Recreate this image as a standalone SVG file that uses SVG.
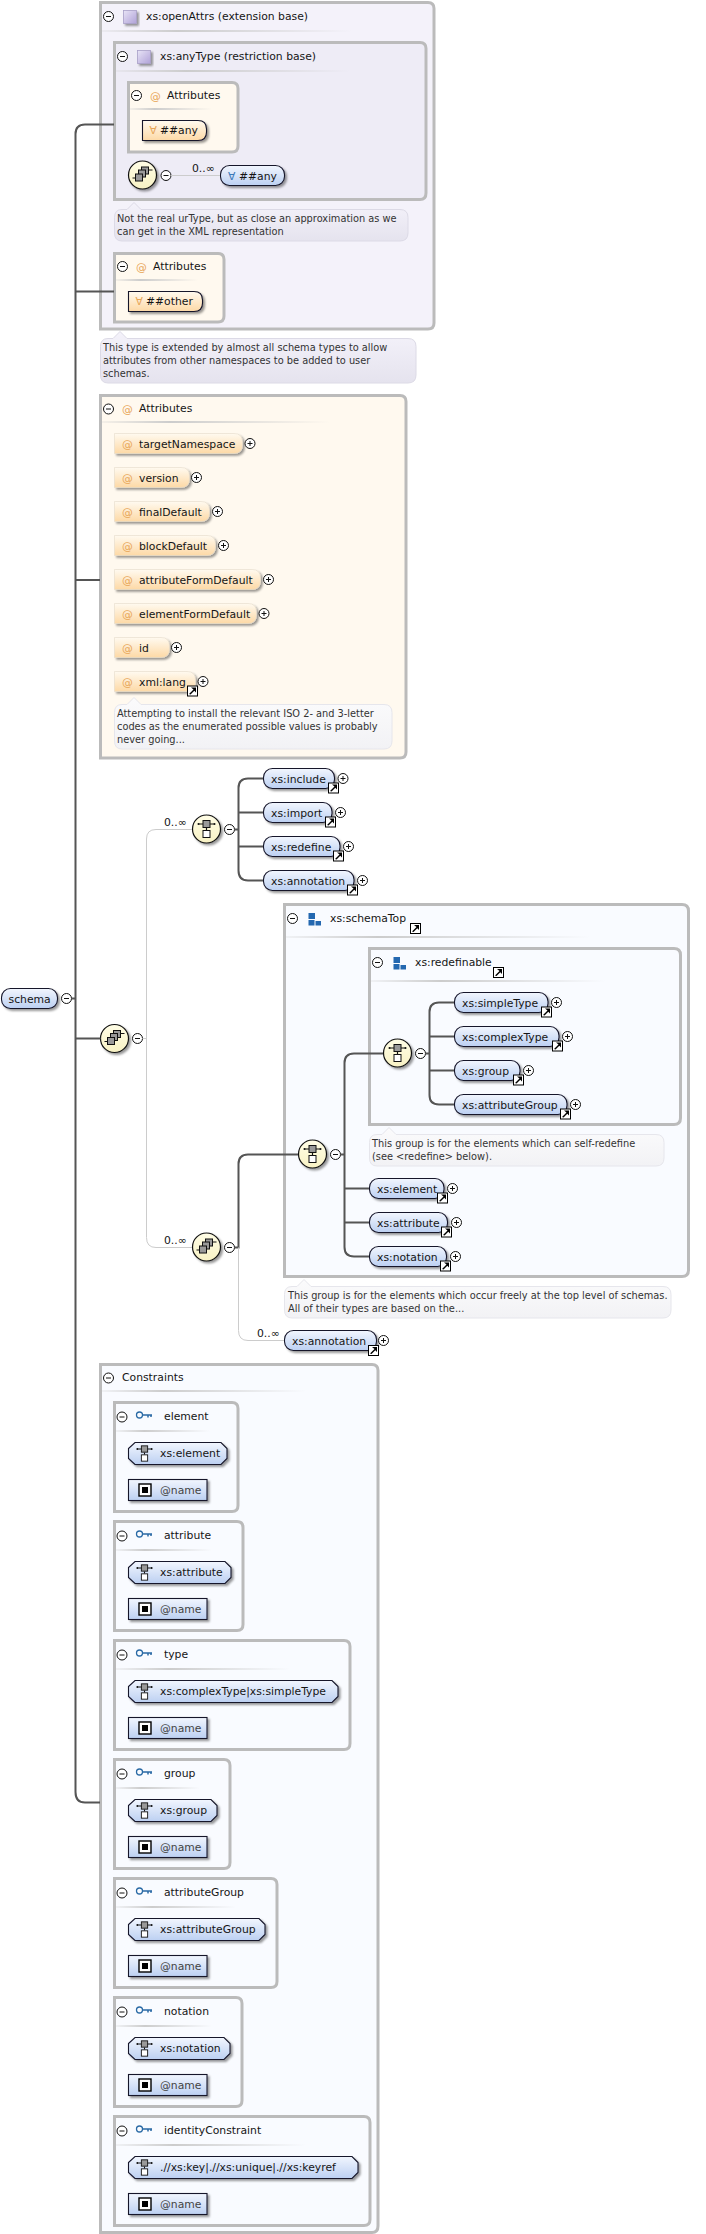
<svg xmlns="http://www.w3.org/2000/svg" width="706" height="2234" viewBox="0 0 706 2234">
<style>
text{font-family:"DejaVu Sans",sans-serif;font-size:10.8px;fill:#151515}
.box{stroke:#bbb;stroke-width:3}
.type{fill:#f4f2fa}.type2{fill:#eeecf6}.attrs{fill:#fff9ef}.grp{fill:#f9fbff}
.el{fill:url(#gEl);stroke:#15152a;stroke-width:1.1;filter:url(#sh)}
.at{fill:url(#gAt);stroke:#e6dccb;stroke-width:.6;filter:url(#sh)}
.any{fill:url(#gAt);stroke:#15152a;stroke-width:1.1;filter:url(#sh)}
.hl{fill:url(#gHl)}
.note{fill:url(#gNote);stroke:#dcdae6;stroke-width:1}
.note2{fill:url(#gNote2);stroke:#e6e6ec;stroke-width:1}
text.nt{fill:#333;font-size:9.8px}
text.o{fill:#e8a658}text.b{fill:#3a78b8}
text.nm{fill:#444}
.thick{fill:none;stroke:#555;stroke-width:2}
.thin{fill:none;stroke:#ccc;stroke-width:1}
</style>
<defs>
<linearGradient id="gEl" x1="0" y1="0" x2="0" y2="1"><stop offset="0" stop-color="#f2f6fe"/><stop offset="1" stop-color="#bcd0f2"/></linearGradient>
<linearGradient id="gAt" x1="0" y1="0" x2="0" y2="1"><stop offset="0" stop-color="#fffaf0"/><stop offset="1" stop-color="#fdd9a6"/></linearGradient>
<linearGradient id="gHl" x1="0" y1="0" x2="1" y2="0"><stop offset="0" stop-color="#ccc" stop-opacity=".2"/><stop offset=".3" stop-color="#ccc"/><stop offset="1" stop-color="#ccc" stop-opacity="0"/></linearGradient>
<linearGradient id="gNote" x1="0" y1="0" x2="0" y2="1"><stop offset="0" stop-color="#f4f2fa"/><stop offset="1" stop-color="#e5e3ee"/></linearGradient>
<linearGradient id="gNote2" x1="0" y1="0" x2="0" y2="1"><stop offset="0" stop-color="#fbfbfc"/><stop offset="1" stop-color="#f2f2f5"/></linearGradient>
<linearGradient id="gCirc" x1="0" y1="0" x2="0" y2="1"><stop offset="0" stop-color="#fffde6"/><stop offset="1" stop-color="#f8f2c4"/></linearGradient>
<linearGradient id="gSq" x1="0" y1="0" x2="1" y2="1"><stop offset="0" stop-color="#e8e4f6"/><stop offset="1" stop-color="#b0a2d8"/></linearGradient>
<filter id="sh" x="-20%" y="-30%" width="140%" height="170%"><feDropShadow dx="2" dy="2" stdDeviation="1.3" flood-color="#000" flood-opacity=".4"/></filter>
<g id="minus"><circle r="5" fill="#fff" stroke="#111" stroke-width="1"/><path d="M-2.500 0H2.500" stroke="#111" stroke-width="1"/></g>
<g id="plus"><circle r="5" fill="#fff" stroke="#111" stroke-width="1"/><path d="M-2.500 0H2.500M0-2.500V2.500" stroke="#111" stroke-width="1"/></g>
<g id="link"><rect x="-5" y="-5" width="10" height="10" fill="#fff" stroke="#000" stroke-width="1"/><path d="M-3.500 3 L1 -1.500 L-1.500 -3.500 L3.500 -3.500 L3.500 1.500 L1.800 -.2 L-2 3.500Z" fill="#000"/></g>
<g id="chIcon"><path d="M-8-5H8M0-1V1" stroke="#111" stroke-width="1.200"/><circle cx="-8" cy="-5" r="1" fill="#111"/><circle cx="8" cy="-5" r="1" fill="#111"/><rect x="-3.500" y="-8.500" width="7" height="7" fill="#999" stroke="#111"/><rect x="-3.500" y="1.500" width="7" height="7" fill="#fff" stroke="#111"/></g>
<g id="choice"><circle r="14" fill="url(#gCirc)" stroke="#111" stroke-width="1.200" filter="url(#sh)"/><use href="#chIcon"/></g>
<g id="seq"><circle r="14" fill="url(#gCirc)" stroke="#111" stroke-width="1.200" filter="url(#sh)"/><path d="M-10 3H-7M6-5H10" stroke="#111" stroke-width="1.200"/><rect x="-1" y="-8" width="7" height="7" fill="#999" stroke="#111"/><rect x="-4" y="-5" width="7" height="7" fill="#999" stroke="#111"/><rect x="-7" y="-1" width="7" height="7" fill="#999" stroke="#111"/></g>
<g id="purple"><rect x="0" y="0" width="13" height="13" fill="url(#gSq)" stroke="#a9a0c8" stroke-width=".8" filter="url(#sh)"/></g>
<g id="blocks"><rect x="0" y="0" width="6.500" height="6" fill="#2468b0"/><rect x="0" y="7" width="6" height="5.500" fill="#2468b0"/><rect x="7" y="8" width="5.500" height="4.500" fill="#2468b0"/></g>
<g id="key"><circle cx="3.500" cy="0" r="3" fill="none" stroke="#2a6aa5" stroke-width="1.300"/><path d="M6.500 0H16M12 0V2.500M15 0V2" stroke="#2a6aa5" stroke-width="1.500" fill="none"/></g>
<g id="atSq"><rect x="0" y="0" width="12" height="12" fill="#fff" stroke="#000" stroke-width="1.400"/><rect x="3" y="3" width="6" height="6" fill="#000"/></g>
</defs>

<g id="openAttrs">
<path class="box type" d="M100.500 2.500H428Q434 2.500 434 8.500V323Q434 329 428 329H100.500Z"/>
<rect class="hl" x="102" y="30" width="250" height="2"/>
<use href="#minus" x="108.500" y="16.500"/><use href="#purple" x="123.500" y="10.500"/>
<text x="146" y="20">xs:openAttrs (extension base)</text>
</g>
<g id="anyType">
<path class="box type2" d="M114.500 42.500H420Q426 42.500 426 48.500V193Q426 199.500 420 199.500H114.500Z"/>
<rect class="hl" x="116" y="70" width="234" height="2"/>
<use href="#minus" x="122.500" y="56.500"/><use href="#purple" x="137.500" y="50.500"/>
<text x="160" y="60">xs:anyType (restriction base)</text>
</g>
<g id="attrs-any">
<path class="box attrs" d="M128.500 82.500H232Q238 82.500 238 88.500V146Q238 152 232 152H128.500Z"/>
<rect class="hl" x="130" y="108" width="82" height="2"/>
<use href="#minus" x="136.500" y="95.500"/>
<text x="150" y="100" class="o">@</text><text x="167" y="99">Attributes</text>
</g>
<g id="any-attr">
<path class="any" d="M142.500 120.500H198Q206.500 120.500 206.500 129V132Q206.500 140.500 198 140.500H142.500Z"/>
<text x="149.500" y="134" class="o">∀</text><text x="160" y="134">##any</text>
</g>
<g id="seq-any">
<use href="#seq" x="142.500" y="175"/><use href="#minus" x="166" y="175.500"/>
</g>
<g id="any-el">
<text x="192" y="172">0..∞</text>
<rect class="el" x="220.500" y="165.500" width="64" height="20" rx="9"/>
<text x="228" y="179.500" class="b">∀</text><text x="239" y="179.500">##any</text>
</g>
<g id="note-urtype">
<path class="note" d="M122 209.500H127L134 202.500L141 209.500H400Q408 209.500 408 217.500V233Q408 241 400 241H122Q114.500 241 114.500 233V217.500Q114.500 209.500 122 209.500Z"/>
<text class="nt" x="117" y="222">Not the real urType, but as close an approximation as we</text>
<text class="nt" x="117" y="235">can get in the XML representation</text>
</g>
<g id="attrs-other">
<path class="box attrs" d="M114.500 253.500H218Q224 253.500 224 259.500V316Q224 322 218 322H114.500Z"/>
<rect class="hl" x="116" y="279" width="82" height="2"/>
<use href="#minus" x="122.500" y="266.500"/>
<text x="136" y="271" class="o">@</text><text x="153" y="270">Attributes</text>
<path class="any" d="M128.500 291.500H194Q202.500 291.500 202.500 300V303Q202.500 311.500 194 311.500H128.500Z"/>
<text x="135.500" y="305" class="o">∀</text><text x="146" y="305">##other</text>
</g>
<g id="note-openattrs">
<path class="note" d="M108 338.500H113L120 331.500L127 338.500H408Q416 338.500 416 346.500V375Q416 383 408 383H108Q100.500 383 100.500 375V346.500Q100.500 338.500 108 338.500Z"/>
<text class="nt" x="103" y="351">This type is extended by almost all schema types to allow</text>
<text class="nt" x="103" y="364">attributes from other namespaces to be added to user</text>
<text class="nt" x="103" y="377">schemas.</text>
</g>

<g id="attributes">
<path class="box attrs" d="M100.500 395.500H400Q406 395.500 406 401.500V752Q406 758 400 758H100.500Z"/>
<rect class="hl" x="102" y="421" width="228" height="2"/>
<use href="#minus" x="108.500" y="409"/>
<text x="122" y="413" class="o">@</text><text x="139" y="412">Attributes</text>
</g>
<g id="targetNamespace"><path class="at" d="M114.500 433.500H234Q242.500 433.500 242.500 442V445Q242.500 453.500 234 453.500H114.500Z"/><text x="122" y="448" class="o">@</text><text x="139" y="447.500">targetNamespace</text><use href="#plus" x="250" y="443.500"/></g>
<g id="version"><path class="at" d="M114.500 467.500H181Q189.500 467.500 189.500 476V479Q189.500 487.500 181 487.500H114.500Z"/><text x="122" y="482" class="o">@</text><text x="139" y="481.500">version</text><use href="#plus" x="196.500" y="477.500"/></g>
<g id="finalDefault"><path class="at" d="M114.500 501.500H201Q209.500 501.500 209.500 510V513Q209.500 521.500 201 521.500H114.500Z"/><text x="122" y="516" class="o">@</text><text x="139" y="515.500">finalDefault</text><use href="#plus" x="217.500" y="511.500"/></g>
<g id="blockDefault"><path class="at" d="M114.500 535.500H207Q215.500 535.500 215.500 544V547Q215.500 555.500 207 555.500H114.500Z"/><text x="122" y="550" class="o">@</text><text x="139" y="549.500">blockDefault</text><use href="#plus" x="223.500" y="545.500"/></g>
<g id="attributeFormDefault"><path class="at" d="M114.500 569.500H252Q260.500 569.500 260.500 578V581Q260.500 589.500 252 589.500H114.500Z"/><text x="122" y="584" class="o">@</text><text x="139" y="583.500">attributeFormDefault</text><use href="#plus" x="268.500" y="579.500"/></g>
<g id="elementFormDefault"><path class="at" d="M114.500 603.500H248Q256.500 603.500 256.500 612V615Q256.500 623.500 248 623.500H114.500Z"/><text x="122" y="618" class="o">@</text><text x="139" y="617.500">elementFormDefault</text><use href="#plus" x="264" y="613.500"/></g>
<g id="id"><path class="at" d="M114.500 637.500H161Q169.500 637.500 169.500 646V649Q169.500 657.500 161 657.500H114.500Z"/><text x="122" y="652" class="o">@</text><text x="139" y="651.500">id</text><use href="#plus" x="176.500" y="647.500"/></g>
<g id="xml-lang"><path class="at" d="M114.500 671.500H187Q195.500 671.500 195.500 680V683Q195.500 691.500 187 691.500H114.500Z"/><text x="122" y="686" class="o">@</text><text x="139" y="685.500">xml:lang</text><use href="#plus" x="203" y="681.500"/><use href="#link" x="192.500" y="691"/></g>
<g id="note-lang">
<path class="note2" d="M122 704.500H127L134 697.500L141 704.500H384Q392 704.500 392 712.500V741Q392 749 384 749H122Q114.500 749 114.500 741V712.500Q114.500 704.500 122 704.500Z"/>
<text class="nt" x="117" y="717">Attempting to install the relevant ISO 2- and 3-letter</text>
<text class="nt" x="117" y="730">codes as the enumerated possible values is probably</text>
<text class="nt" x="117" y="743">never going...</text>
</g>

<g id="schema"><rect class="el" x="1.500" y="988.500" width="56" height="20" rx="9"/><text x="8.500" y="1002.500">schema</text><use href="#minus" x="66.500" y="998.500"/></g>
<g id="seq-main"><use href="#seq" x="114.500" y="1038.500"/><use href="#minus" x="137.500" y="1038.500"/></g>
<g id="choice-top"><text x="164" y="826">0..∞</text><use href="#choice" x="206.500" y="829"/><use href="#minus" x="229.500" y="829.500"/></g>
<g id="include"><rect class="el" x="263.500" y="768.500" width="71" height="20" rx="9"/><text x="271" y="782.500">xs:include</text><use href="#link" x="333.500" y="788"/><use href="#plus" x="343" y="778.500"/></g>
<g id="import"><rect class="el" x="263.500" y="802.500" width="68.500" height="20" rx="9"/><text x="271" y="816.500">xs:import</text><use href="#link" x="330.500" y="822"/><use href="#plus" x="340.500" y="812.500"/></g>
<g id="redefine"><rect class="el" x="263.500" y="836.500" width="76.500" height="20" rx="9"/><text x="271" y="850.500">xs:redefine</text><use href="#link" x="338.500" y="856"/><use href="#plus" x="348.500" y="846.500"/></g>
<g id="annotation"><rect class="el" x="263.500" y="870.500" width="90.500" height="20" rx="9"/><text x="271" y="884.500">xs:annotation</text><use href="#link" x="352.500" y="890"/><use href="#plus" x="362.500" y="880.500"/></g>

<g id="schemaTop">
<path class="box grp" d="M284.500 904.500H682Q688.500 904.500 688.500 911V1270Q688.500 1276.500 682 1276.500H284.500Z"/>
<rect class="hl" x="286" y="936" width="304" height="2"/>
<use href="#minus" x="292.500" y="918.500"/><use href="#blocks" x="308.500" y="913"/>
<text x="330" y="922">xs:schemaTop</text><use href="#link" x="415.500" y="928.500"/>
</g>
<g id="redefinable">
<path class="box grp" d="M369.500 948.500H674Q680.500 948.500 680.500 955V1118Q680.500 1124.500 674 1124.500H369.500Z"/>
<rect class="hl" x="371" y="980" width="234" height="2"/>
<use href="#minus" x="377.500" y="962.500"/><use href="#blocks" x="393.500" y="957"/>
<text x="415" y="966">xs:redefinable</text><use href="#link" x="498.500" y="972.500"/>
</g>
<g id="choice-redefinable"><use href="#choice" x="397.500" y="1053"/><use href="#minus" x="420.500" y="1053.500"/></g>
<g id="simpleType"><rect class="el" x="454.500" y="992.500" width="93.500" height="20" rx="9"/><text x="462" y="1006.500">xs:simpleType</text><use href="#link" x="546.500" y="1012"/><use href="#plus" x="556.500" y="1002.500"/></g>
<g id="complexType"><rect class="el" x="454.500" y="1026.500" width="104.500" height="20" rx="9"/><text x="462" y="1040.500">xs:complexType</text><use href="#link" x="557.500" y="1046"/><use href="#plus" x="567.500" y="1036.500"/></g>
<g id="group"><rect class="el" x="454.500" y="1060.500" width="65.500" height="20" rx="9"/><text x="462" y="1074.500">xs:group</text><use href="#link" x="518.500" y="1080"/><use href="#plus" x="528.500" y="1070.500"/></g>
<g id="attributeGroup"><rect class="el" x="454.500" y="1094.500" width="112.500" height="20" rx="9"/><text x="462" y="1108.500">xs:attributeGroup</text><use href="#link" x="565.500" y="1114"/><use href="#plus" x="575.500" y="1104.500"/></g>
<g id="note-redefinable">
<path class="note2" d="M377 1134.500H382L389 1127.500L396 1134.500H656Q664 1134.500 664 1142.500V1158Q664 1166 656 1166H377Q369.500 1166 369.500 1158V1142.500Q369.500 1134.500 377 1134.500Z"/>
<text class="nt" x="372" y="1147">This group is for the elements which can self-redefine</text>
<text class="nt" x="372" y="1160">(see &lt;redefine&gt; below).</text>
</g>
<g id="choice-schemaTop"><use href="#choice" x="312.500" y="1154"/><use href="#minus" x="335.500" y="1154.500"/></g>
<g id="element"><rect class="el" x="369.500" y="1178.500" width="74.500" height="20" rx="9"/><text x="377" y="1192.500">xs:element</text><use href="#link" x="442.500" y="1198"/><use href="#plus" x="452.500" y="1188.500"/></g>
<g id="attribute"><rect class="el" x="369.500" y="1212.500" width="78" height="20" rx="9"/><text x="377" y="1226.500">xs:attribute</text><use href="#link" x="446.500" y="1232"/><use href="#plus" x="456.500" y="1222.500"/></g>
<g id="notation"><rect class="el" x="369.500" y="1246.500" width="77" height="20" rx="9"/><text x="377" y="1260.500">xs:notation</text><use href="#link" x="445.500" y="1266"/><use href="#plus" x="455.500" y="1256.500"/></g>
<g id="note-schemaTop">
<path class="note2" d="M292 1286.500H297L304 1279.500L311 1286.500H663Q671 1286.500 671 1294.500V1310Q671 1318 663 1318H292Q284.500 1318 284.500 1310V1294.500Q284.500 1286.500 292 1286.500Z"/>
<text class="nt" x="288" y="1299">This group is for the elements which occur freely at the top level of schemas.</text>
<text class="nt" x="288" y="1312">All of their types are based on the...</text>
</g>
<g id="seq-lower"><text x="164" y="1244">0..∞</text><use href="#seq" x="206.500" y="1247"/><use href="#minus" x="229.500" y="1247.500"/></g>
<g id="annotation-2"><text x="257" y="1337">0..∞</text><rect class="el" x="284.500" y="1330.500" width="92" height="20" rx="9"/><text x="292" y="1344.500">xs:annotation</text><use href="#link" x="373.500" y="1350.500"/><use href="#plus" x="383.500" y="1340.500"/></g>

<g id="constraints">
<path class="box grp" d="M100.500 1364.500H372Q378 1364.500 378 1370.500V2226Q378 2232.500 372 2232.500H100.500Z"/>
<rect class="hl" x="102" y="1390" width="204" height="2"/>
<use href="#minus" x="108.500" y="1378"/>
<text x="122" y="1381">Constraints</text>
</g>

<g id="c-element">
<path class="box grp" d="M114.500 1402.500H232Q238 1402.500 238 1408.500V1505.500Q238 1511.500 232 1511.500H114.500Z"/>
<rect class="hl" x="116" y="1430" width="94" height="2"/>
<use href="#minus" x="122" y="1417"/><use href="#key" x="136" y="1415"/><text x="164" y="1420">element</text>
<path class="el" d="M135 1442.500H221L227 1448.500V1458.500L221 1464.500H135L128.500 1458.500V1448.500Z"/><use href="#chIcon" transform="translate(144.500 1453.500) scale(.9)"/><text x="160" y="1457">xs:element</text>
<rect class="el" x="128.500" y="1479.500" width="78.500" height="21"/><use href="#atSq" x="139" y="1484"/><text class="nm" x="160" y="1493.500">@name</text>
</g>
<g id="c-attribute">
<path class="box grp" d="M114.500 1521.500H237Q243 1521.500 243 1527.500V1624.500Q243 1630.500 237 1630.500H114.500Z"/>
<rect class="hl" x="116" y="1549" width="96" height="2"/>
<use href="#minus" x="122" y="1536"/><use href="#key" x="136" y="1534"/><text x="164" y="1539">attribute</text>
<path class="el" d="M135 1561.500H225L231 1567.500V1577.500L225 1583.500H135L128.500 1577.500V1567.500Z"/><use href="#chIcon" transform="translate(144.500 1572.500) scale(.9)"/><text x="160" y="1576">xs:attribute</text>
<rect class="el" x="128.500" y="1598.500" width="78.500" height="21"/><use href="#atSq" x="139" y="1603"/><text class="nm" x="160" y="1612.500">@name</text>
</g>
<g id="c-type">
<path class="box grp" d="M114.500 1640.500H344Q350 1640.500 350 1646.500V1743.500Q350 1749.500 344 1749.500H114.500Z"/>
<rect class="hl" x="116" y="1668" width="174" height="2"/>
<use href="#minus" x="122" y="1655"/><use href="#key" x="136" y="1653"/><text x="164" y="1658">type</text>
<path class="el" d="M135 1680.500H332L338 1686.500V1696.500L332 1702.500H135L128.500 1696.500V1686.500Z"/><use href="#chIcon" transform="translate(144.500 1691.500) scale(.9)"/><text x="160" y="1695">xs:complexType|xs:simpleType</text>
<rect class="el" x="128.500" y="1717.500" width="78.500" height="21"/><use href="#atSq" x="139" y="1722"/><text class="nm" x="160" y="1731.500">@name</text>
</g>
<g id="c-group">
<path class="box grp" d="M114.500 1759.500H224Q230 1759.500 230 1765.500V1862.500Q230 1868.500 224 1868.500H114.500Z"/>
<rect class="hl" x="116" y="1787" width="84" height="2"/>
<use href="#minus" x="122" y="1774"/><use href="#key" x="136" y="1772"/><text x="164" y="1777">group</text>
<path class="el" d="M135 1799.500H211L217 1805.500V1815.500L211 1821.500H135L128.500 1815.500V1805.500Z"/><use href="#chIcon" transform="translate(144.500 1810.500) scale(.9)"/><text x="160" y="1814">xs:group</text>
<rect class="el" x="128.500" y="1836.500" width="78.500" height="21"/><use href="#atSq" x="139" y="1841"/><text class="nm" x="160" y="1850.500">@name</text>
</g>
<g id="c-attributeGroup">
<path class="box grp" d="M114.500 1878.500H271Q277 1878.500 277 1884.500V1981.500Q277 1987.500 271 1987.500H114.500Z"/>
<rect class="hl" x="116" y="1906" width="120" height="2"/>
<use href="#minus" x="122" y="1893"/><use href="#key" x="136" y="1891"/><text x="164" y="1896">attributeGroup</text>
<path class="el" d="M135 1918.500H259L265 1924.500V1934.500L259 1940.500H135L128.500 1934.500V1924.500Z"/><use href="#chIcon" transform="translate(144.500 1929.500) scale(.9)"/><text x="160" y="1933">xs:attributeGroup</text>
<rect class="el" x="128.500" y="1955.500" width="78.500" height="21"/><use href="#atSq" x="139" y="1960"/><text class="nm" x="160" y="1969.500">@name</text>
</g>
<g id="c-notation">
<path class="box grp" d="M114.500 1997.500H236Q242 1997.500 242 2003.500V2100.500Q242 2106.500 236 2106.500H114.500Z"/>
<rect class="hl" x="116" y="2025" width="96" height="2"/>
<use href="#minus" x="122" y="2012"/><use href="#key" x="136" y="2010"/><text x="164" y="2015">notation</text>
<path class="el" d="M135 2037.500H224L230 2043.500V2053.500L224 2059.500H135L128.500 2053.500V2043.500Z"/><use href="#chIcon" transform="translate(144.500 2048.500) scale(.9)"/><text x="160" y="2052">xs:notation</text>
<rect class="el" x="128.500" y="2074.500" width="78.500" height="21"/><use href="#atSq" x="139" y="2079"/><text class="nm" x="160" y="2088.500">@name</text>
</g>
<g id="c-identityConstraint">
<path class="box grp" d="M114.500 2116.500H364Q370 2116.500 370 2122.500V2219.500Q370 2225.500 364 2225.500H114.500Z"/>
<rect class="hl" x="116" y="2144" width="190" height="2"/>
<use href="#minus" x="122" y="2131"/><use href="#key" x="136" y="2129"/><text x="164" y="2134">identityConstraint</text>
<path class="el" d="M135 2156.500H352L358 2162.500V2172.500L352 2178.500H135L128.500 2172.500V2162.500Z"/><use href="#chIcon" transform="translate(144.500 2167.500) scale(.9)"/><text x="160" y="2171">.//xs:key|.//xs:unique|.//xs:keyref</text>
<rect class="el" x="128.500" y="2193.500" width="78.500" height="21"/><use href="#atSq" x="139" y="2198"/><text class="nm" x="160" y="2207.500">@name</text>
</g>

<g id="connectors">
<path class="thick" d="M114 124.500H85Q75.500 124.500 75.500 134V1792Q75.500 1802.500 85 1802.500H100"/>
<path class="thick" d="M75.500 291.500H114M75.500 580H100M71.500 998.500H75.500M75.500 1038.500H100.500"/>
<path class="thin" d="M142.500 1038.500H146.500M192 829.500H156Q146.500 829.500 146.500 839V1237.500Q146.500 1247.500 156 1247.500H192"/>
<path class="thin" d="M171 175.500H220"/>
<path class="thick" d="M263 778.500H248Q238.500 778.500 238.500 788V870.500Q238.500 880.500 248 880.500H263M238.500 812.500H263M238.500 846.500H263M234.500 829.500H238.500"/>
<path class="thick" d="M298 1154.500H248Q238.500 1154.500 238.500 1164V1247.500H234.500"/>
<path class="thin" d="M238.500 1247.500V1330.500Q238.500 1340.500 248 1340.500H284"/>
<path class="thick" d="M383 1053.500H354Q344.500 1053.500 344.500 1063V1247Q344.500 1256.500 354 1256.500H369M344.500 1188.500H369M344.500 1222.500H369M340.500 1154.500H344.500"/>
<path class="thick" d="M454 1002.500H439Q429.500 1002.500 429.500 1012V1095Q429.500 1104.500 439 1104.500H454M429.500 1036.500H454M429.500 1070.500H454M425.500 1053.500H429.500"/>
</g>
</svg>
